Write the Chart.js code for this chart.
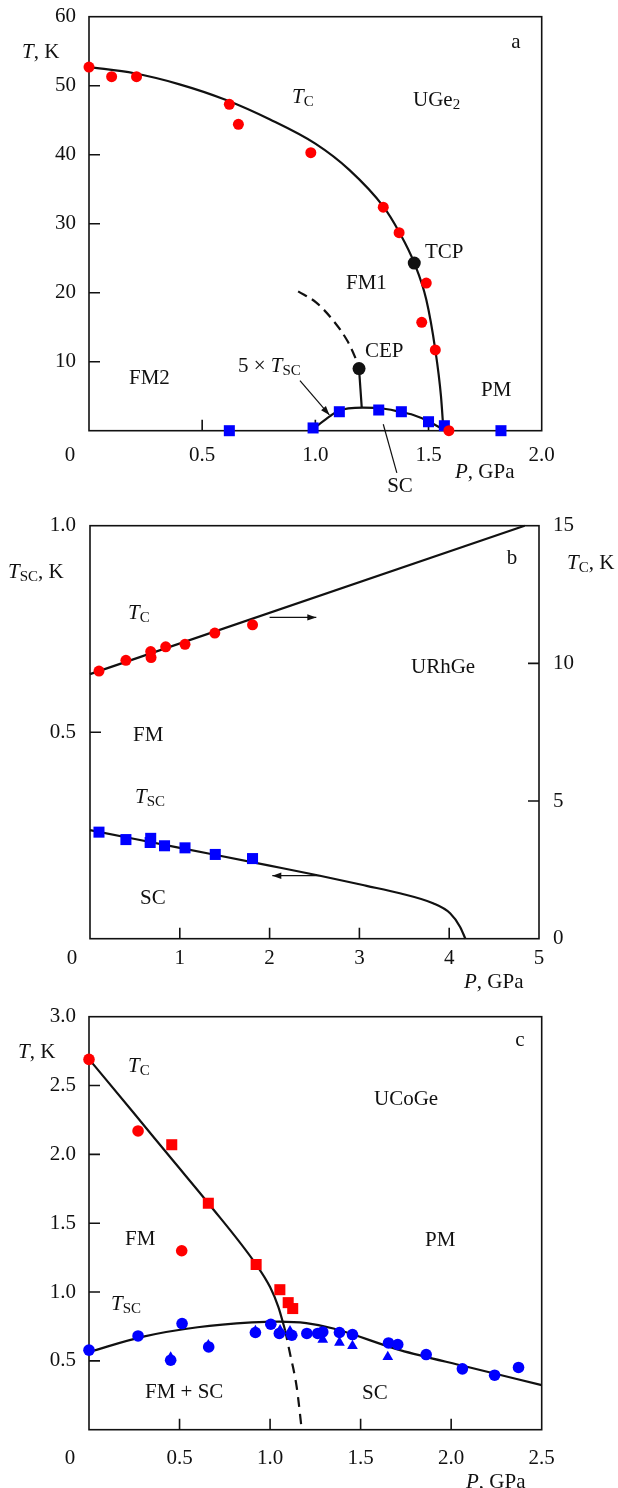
<!DOCTYPE html>
<html>
<head>
<meta charset="utf-8">
<script src="https://cdn.jsdelivr.net/npm/chart.js@4/dist/chart.umd.min.js"></script>
<style>
  body { margin: 0; background: #fff; }
  #wrap { position: relative; width: 618px; height: 1488px; }
  canvas { position: absolute; left: 0; }
</style>
</head>
<body>
<div id="wrap">
  <canvas id="chartA" width="618" height="500" style="top:0"></canvas>
  <canvas id="chartB" width="618" height="500" style="top:500px"></canvas>
  <canvas id="chartC" width="618" height="488" style="top:1000px"></canvas>
</div>
<script>
// ---- UGe2 (panel a) ----
const ugeTcP = [0, 0.10, 0.21, 0.62, 0.66, 0.98, 1.30, 1.37, 1.49, 1.47, 1.53, 1.59];
const ugeTcT = [52.7, 51.3, 51.3, 47.3, 44.4, 40.3, 32.4, 28.7, 21.4, 15.7, 11.7, 0];
const ugeScP = [0.62, 0.99, 1.106, 1.28, 1.38, 1.50, 1.57, 1.82];
const ugeScT = [0, 0.4, 2.75, 3.0, 2.75, 1.30, 0.72, 0];
const ugeCritP = [1.437, 1.193];   // TCP, CEP
const ugeCritT = [24.3, 9.0];
const ugeTcLineP = [0, 0.2, 0.4, 0.6, 0.8, 1.0, 1.15, 1.30, 1.37, 1.437, 1.49, 1.53, 1.555, 1.566];
const ugeTcLineT = [52.7, 51.8, 50.2, 48.0, 45.1, 41.6, 37.8, 32.5, 28.8, 24.3, 19.0, 11.7, 5.0, 0];
const ugeFm12P = [0.924, 1.003, 1.078, 1.14, 1.175, 1.193];
const ugeFm12T = [20.2, 18.6, 16.0, 13.1, 10.7, 9.0];
const ugeStemP = [1.193, 1.205];
const ugeStemT = [9.0, 3.3];
const ugeDomeP = [0.99, 1.065, 1.10, 1.209, 1.276, 1.379, 1.433, 1.497, 1.573];
const ugeDomeT = [0.25, 2.1, 2.85, 3.33, 3.29, 2.71, 2.28, 1.41, 0.03];

// ---- URhGe (panel b) ----
const urhTcP = [0.10, 0.40, 0.676, 0.68, 0.843, 1.058, 1.39, 1.81];
const urhTcT = [9.72, 10.11, 10.43, 10.21, 10.6, 10.69, 11.1, 11.4];
const urhScP = [0.10, 0.40, 0.676, 0.67, 0.83, 1.058, 1.395, 1.81];
const urhScT = [0.258, 0.240, 0.243, 0.233, 0.225, 0.220, 0.204, 0.194];
const urhTcLineP = [0, 4.84];
const urhTcLineT = [9.61, 15];
const urhScLineP = [0, 1, 2, 2.56, 3.08, 3.45, 3.82, 4.01, 4.12, 4.18];
const urhScLineT = [0.263, 0.22, 0.177, 0.1525, 0.128, 0.110, 0.0857, 0.0615, 0.029, 0];

// ---- UCoGe (panel c) ----
const ucoTcCircP = [0, 0.271, 0.512];
const ucoTcCircT = [2.69, 2.17, 1.30];
const ucoTcSqP = [0.457, 0.659, 0.923, 1.054, 1.10, 1.125];
const ucoTcSqT = [2.07, 1.645, 1.20, 1.017, 0.923, 0.88];
const ucoScCircP = [0, 0.271, 0.514, 0.451, 0.661, 0.919, 1.004, 1.051, 1.12, 1.203, 1.263, 1.291, 1.383, 1.455, 1.654, 1.705, 1.862, 2.062, 2.24, 2.372];
const ucoScCircT = [0.578, 0.681, 0.771, 0.505, 0.601, 0.706, 0.766, 0.699, 0.686, 0.699, 0.699, 0.71, 0.706, 0.691, 0.630, 0.619, 0.546, 0.442, 0.396, 0.452];
const ucoScTriP = [0.451, 0.659, 0.919, 1.055, 1.11, 1.291, 1.383, 1.455, 1.65];
const ucoScTriT = [0.525, 0.614, 0.717, 0.722, 0.715, 0.655, 0.633, 0.609, 0.529];
const ucoTcLineP = [0, 0.245, 0.457, 0.659, 0.923, 1.0, 1.046, 1.083];
const ucoTcLineT = [2.692, 2.304, 1.966, 1.645, 1.20, 1.036, 0.891, 0.722];
const ucoTcDashP = [1.083, 1.11, 1.147, 1.175];
const ucoTcDashT = [0.722, 0.553, 0.31, 0];
const ucoDomeP = [0, 0.3, 0.6, 0.9, 1.05, 1.2, 1.35, 1.718, 2.087, 2.5];
const ucoDomeT = [0.565, 0.676, 0.744, 0.779, 0.785, 0.774, 0.735, 0.578, 0.457, 0.324];

const RED = '#ff0000';
const BLUE = '#0000ff';
const INK = '#111';

function xy(px, ty) {
  return px.map((p, i) => ({ x: p, y: ty[i] }));
}

// smooth black phase boundary
function curve(px, ty, extra) {
  return Object.assign({
    data: xy(px, ty), showLine: true, pointRadius: 0, borderColor: INK,
    borderWidth: 2.2, cubicInterpolationMode: 'monotone', clip: false, order: 10
  }, extra || {});
}

function marks(px, ty, style, radius, color, extra) {
  return Object.assign({
    data: xy(px, ty), showLine: false, pointStyle: style, pointRadius: radius,
    backgroundColor: color, borderColor: color, borderWidth: 0, clip: false, order: 1
  }, extra || {});
}

// text with italic / subscript pieces
function drawRich(ctx, parts, x, y, align) {
  const fonts = {
    n: '21px "Liberation Serif"',
    i: 'italic 21px "Liberation Serif"',
    s: '15px "Liberation Serif"'
  };
  let w = 0;
  parts.forEach(([t, st]) => { ctx.font = fonts[st]; w += ctx.measureText(t).width; });
  let cx = align === 'center' ? x - w / 2 : align === 'right' ? x - w : x;
  ctx.textAlign = 'left';
  ctx.textBaseline = 'middle';
  ctx.fillStyle = INK;
  parts.forEach(([t, st]) => {
    ctx.font = fonts[st];
    ctx.fillText(t, cx, y + (st === 's' ? 5 : 0));
    cx += ctx.measureText(t).width;
  });
}

function arrow(ctx, x1, y1, x2, y2) {
  ctx.beginPath();
  ctx.moveTo(x1, y1);
  ctx.lineTo(x2, y2);
  ctx.stroke();
  const a = Math.atan2(y2 - y1, x2 - x1);
  const len = 9, half = 3.2;
  ctx.beginPath();
  ctx.moveTo(x2, y2);
  ctx.lineTo(x2 - len * Math.cos(a) + half * Math.sin(a), y2 - len * Math.sin(a) - half * Math.cos(a));
  ctx.lineTo(x2 - len * Math.cos(a) - half * Math.sin(a), y2 - len * Math.sin(a) + half * Math.cos(a));
  ctx.closePath();
  ctx.fill();
}

// frame, inward ticks, tick labels and annotations
function decor(spec) {
  return {
    id: 'decor',
    beforeDatasetsDraw(chart) {
      const { ctx, chartArea: a, scales } = chart;
      ctx.save();
      ctx.strokeStyle = INK;
      ctx.lineWidth = 1.6;
      ctx.strokeRect(a.left, a.top, a.right - a.left, a.bottom - a.top);
      ctx.beginPath();
      spec.xTicks.forEach(v => {
        const px = scales.x.getPixelForValue(v);
        ctx.moveTo(px, a.bottom); ctx.lineTo(px, a.bottom - 11);
      });
      spec.yTicks.forEach(v => {
        const py = scales.y.getPixelForValue(v);
        ctx.moveTo(a.left, py); ctx.lineTo(a.left + 11, py);
      });
      (spec.y2Ticks || []).forEach(v => {
        const py = scales.y2.getPixelForValue(v);
        ctx.moveTo(a.right, py); ctx.lineTo(a.right - 11, py);
      });
      ctx.stroke();
      ctx.restore();
    },
    afterDraw(chart) {
      const { ctx, scales } = chart;
      ctx.save();
      spec.xLabels.forEach(([v, t]) => drawRich(ctx, [[t, 'n']], scales.x.getPixelForValue(v), spec.labelRow, 'center'));
      spec.yLabels.forEach(([v, t]) => drawRich(ctx, [[t, 'n']], 76, scales.y.getPixelForValue(v), 'right'));
      (spec.y2Labels || []).forEach(([v, t]) => drawRich(ctx, [[t, 'n']], 553, scales.y2.getPixelForValue(v), 'left'));
      drawRich(ctx, [['0', 'n']], spec.zero[0], spec.zero[1], 'center');
      spec.texts.forEach(tx => drawRich(ctx, tx.parts, tx.x, tx.y, tx.align || 'left'));
      ctx.strokeStyle = INK;
      ctx.fillStyle = INK;
      ctx.lineWidth = 1.2;
      (spec.arrows || []).forEach(ar => {
        const ys = scales[ar.axis || 'y'];
        const x1 = scales.x.getPixelForValue(ar.from[0]), y1 = ys.getPixelForValue(ar.from[1]);
        const x2 = scales.x.getPixelForValue(ar.to[0]), y2 = ys.getPixelForValue(ar.to[1]);
        if (ar.head === false) {
          ctx.beginPath(); ctx.moveTo(x1, y1); ctx.lineTo(x2, y2); ctx.stroke();
        } else {
          arrow(ctx, x1, y1, x2, y2);
        }
      });
      ctx.restore();
    }
  };
}

function options(pad, xr, yr, y2r) {
  const scales = {
    x: { type: 'linear', min: xr[0], max: xr[1], display: false },
    y: { type: 'linear', min: yr[0], max: yr[1], display: false }
  };
  if (y2r) scales.y2 = { type: 'linear', position: 'right', min: y2r[0], max: y2r[1], display: false };
  return {
    responsive: false,
    animation: false,
    events: [],
    layout: { padding: pad },
    plugins: { legend: { display: false }, tooltip: { enabled: false } },
    scales: scales
  };
}

// Panel a: UGe2
new Chart(document.getElementById('chartA'), {
  type: 'scatter',
  data: {
    datasets: [
      curve(ugeTcLineP, ugeTcLineT),
      curve(ugeFm12P, ugeFm12T, { borderDash: [10, 6] }),
      curve(ugeStemP, ugeStemT),
      curve(ugeDomeP, ugeDomeT),
      marks(ugeTcP, ugeTcT, 'circle', 5.5, RED),
      marks(ugeScP, ugeScT, 'rect', 7.8, BLUE),
      marks(ugeCritP, ugeCritT, 'circle', 6.5, INK, { order: 0 })
    ]
  },
  options: options({ left: 89, right: 76.3, top: 16.7, bottom: 69.3 }, [0, 2], [0, 60]),
  plugins: [decor({
    xTicks: [0.5, 1.0, 1.5],
    yTicks: [10, 20, 30, 40, 50],
    xLabels: [[0.5, '0.5'], [1.0, '1.0'], [1.5, '1.5'], [2.0, '2.0']],
    yLabels: [[10, '10'], [20, '20'], [30, '30'], [40, '40'], [50, '50'], [60, '60']],
    labelRow: 455,
    zero: [70, 455],
    texts: [
      { parts: [['T', 'i'], [', K', 'n']], x: 22, y: 52 },
      { parts: [['T', 'i'], ['C', 's']], x: 292, y: 97 },
      { parts: [['UGe', 'n'], ['2', 's']], x: 413, y: 100 },
      { parts: [['a', 'n']], x: 516, y: 42, align: 'center' },
      { parts: [['TCP', 'n']], x: 425, y: 252 },
      { parts: [['FM1', 'n']], x: 346, y: 283 },
      { parts: [['CEP', 'n']], x: 365, y: 351 },
      { parts: [['PM', 'n']], x: 481, y: 390 },
      { parts: [['FM2', 'n']], x: 129, y: 378 },
      { parts: [['5 × ', 'n'], ['T', 'i'], ['SC', 's']], x: 238, y: 366 },
      { parts: [['SC', 'n']], x: 400, y: 486, align: 'center' },
      { parts: [['P', 'i'], [', GPa', 'n']], x: 455, y: 472 }
    ],
    arrows: [
      { from: [0.932, 7.25], to: [1.062, 2.28] },
      { from: [1.30, 0.93], to: [1.36, -6.1], head: false }
    ]
  })]
});

// Panel b: URhGe (T_SC on the left axis, T_C on the right axis)
new Chart(document.getElementById('chartB'), {
  type: 'scatter',
  data: {
    datasets: [
      curve(urhTcLineP, urhTcLineT, { yAxisID: 'y2' }),
      curve(urhScLineP, urhScLineT),
      marks(urhTcP, urhTcT, 'circle', 5.5, RED, { yAxisID: 'y2' }),
      marks(urhScP, urhScT, 'rect', 7.8, BLUE)
    ]
  },
  options: options({ left: 90, right: 79, top: 25.7, bottom: 61.3 }, [0, 5], [0, 1], [0, 15]),
  plugins: [decor({
    xTicks: [1, 2, 3, 4],
    yTicks: [0.5],
    y2Ticks: [5, 10],
    xLabels: [[1, '1'], [2, '2'], [3, '3'], [4, '4'], [5, '5']],
    yLabels: [[0.5, '0.5'], [1.0, '1.0']],
    y2Labels: [[0, '0'], [5, '5'], [10, '10'], [15, '15']],
    labelRow: 458,
    zero: [72, 458],
    texts: [
      { parts: [['T', 'i'], ['SC', 's'], [', K', 'n']], x: 8, y: 72 },
      { parts: [['T', 'i'], ['C', 's'], [', K', 'n']], x: 567, y: 63 },
      { parts: [['T', 'i'], ['C', 's']], x: 128, y: 113 },
      { parts: [['FM', 'n']], x: 133, y: 235 },
      { parts: [['T', 'i'], ['SC', 's']], x: 135, y: 297 },
      { parts: [['SC', 'n']], x: 140, y: 398 },
      { parts: [['URhGe', 'n']], x: 411, y: 167 },
      { parts: [['b', 'n']], x: 512, y: 58, align: 'center' },
      { parts: [['P', 'i'], [', GPa', 'n']], x: 464, y: 482 }
    ],
    arrows: [
      { from: [2.0, 11.67], to: [2.52, 11.67], axis: 'y2' },
      { from: [2.56, 0.1525], to: [2.03, 0.1525] }
    ]
  })]
});

// Panel c: UCoGe
new Chart(document.getElementById('chartC'), {
  type: 'scatter',
  data: {
    datasets: [
      curve(ucoTcLineP, ucoTcLineT),
      curve(ucoTcDashP, ucoTcDashT, { borderDash: [10, 7] }),
      curve(ucoDomeP, ucoDomeT),
      marks(ucoScTriP, ucoScTriT, 'triangle', 6.2, BLUE, { order: 3 }),
      marks(ucoScCircP, ucoScCircT, 'circle', 5.8, BLUE, { order: 2 }),
      marks(ucoTcCircP, ucoTcCircT, 'circle', 5.8, RED),
      marks(ucoTcSqP, ucoTcSqT, 'rect', 7.8, RED)
    ]
  },
  options: options({ left: 89, right: 76.3, top: 16.7, bottom: 58.3 }, [0, 2.5], [0, 3]),
  plugins: [decor({
    xTicks: [0.5, 1.0, 1.5, 2.0],
    yTicks: [0.5, 1.0, 1.5, 2.0, 2.5],
    xLabels: [[0.5, '0.5'], [1.0, '1.0'], [1.5, '1.5'], [2.0, '2.0'], [2.5, '2.5']],
    yLabels: [[0.5, '0.5'], [1.0, '1.0'], [1.5, '1.5'], [2.0, '2.0'], [2.5, '2.5'], [3.0, '3.0']],
    labelRow: 458,
    zero: [70, 458],
    texts: [
      { parts: [['T', 'i'], [', K', 'n']], x: 18, y: 52 },
      { parts: [['T', 'i'], ['C', 's']], x: 128, y: 66 },
      { parts: [['UCoGe', 'n']], x: 374, y: 99 },
      { parts: [['c', 'n']], x: 520, y: 40, align: 'center' },
      { parts: [['FM', 'n']], x: 125, y: 239 },
      { parts: [['PM', 'n']], x: 425, y: 240 },
      { parts: [['T', 'i'], ['SC', 's']], x: 111, y: 304 },
      { parts: [['FM + SC', 'n']], x: 145, y: 392 },
      { parts: [['SC', 'n']], x: 362, y: 393 },
      { parts: [['P', 'i'], [', GPa', 'n']], x: 466, y: 482 }
    ]
  })]
});
</script>
</body>
</html>
